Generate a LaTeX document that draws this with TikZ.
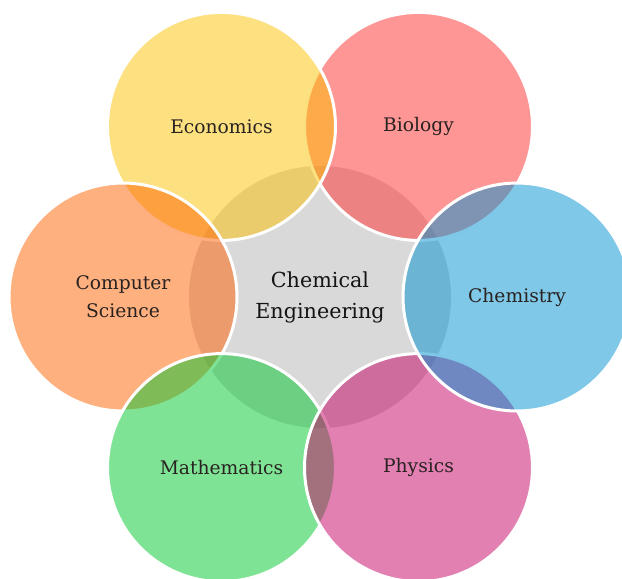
\documentclass[tikz,border=0pt]{standalone}
\usepackage{fontspec}
\setmainfont{DejaVu Serif}
\definecolor{econ}{RGB}{251,193,0}
\definecolor{bio}{RGB}{255,45,45}
\definecolor{chem}{RGB}{0,145,209}
\definecolor{phys}{RGB}{197,1,101}
\definecolor{math}{RGB}{0,199,45}
\definecolor{cs}{RGB}{255,97,0}
\definecolor{core}{RGB}{217,217,217}
\definecolor{outertext}{RGB}{40,34,32}
\definecolor{coretext}{RGB}{20,20,20}
\begin{document}
\begin{tikzpicture}[x=1pt,y=-1pt,
  bubble/.style={circle, inner sep=0pt, minimum size=228pt, draw=white, line width=3pt,
    fill opacity=0.5, draw opacity=1, text opacity=1, text=outertext, align=center,
    font=\fontsize{18.7}{28}\selectfont},
  hub/.style={circle, inner sep=0pt, minimum size=262pt, fill=core, text=coretext,
    align=center, font=\fontsize{20.7}{31}\selectfont}]
\path[use as bounding box] (0,0) rectangle (622,579);
\clip (0,0) rectangle (622,579);
\node[hub] (hubnode) at (320,297) {Chemical\\Engineering};
\node[bubble, fill=bio]  (biology)   at (418.5,126.4) {Biology};
\node[bubble, fill=econ] (economics) at (221.5,126.4) {Economics};
\node[bubble, fill=cs]   (compsci)   at (123,297)     {Computer\\Science};
\node[bubble, fill=math] (mathem)    at (221.5,467.6) {Mathematics};
\node[bubble, fill=phys] (physics)   at (418.5,467.6) {Physics};
\node[bubble, fill=chem] (chemistry) at (517,297)     {Chemistry};
\end{tikzpicture}
\end{document}
